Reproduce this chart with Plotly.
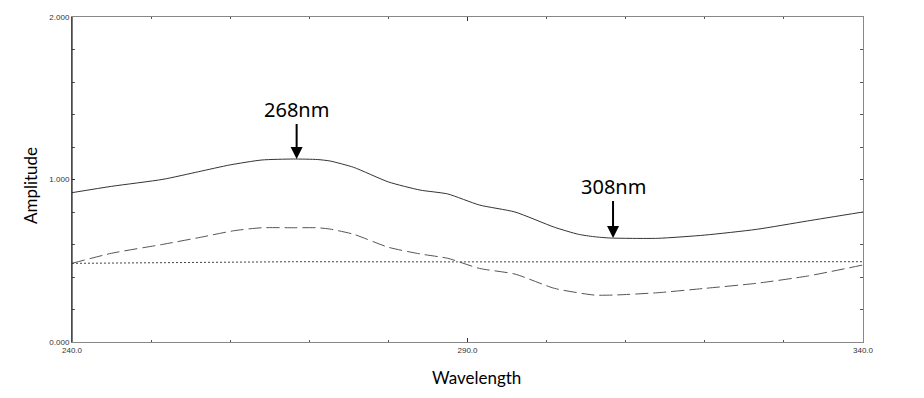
import plotly.graph_objects as go

# Data
wl_solid = [240, 245, 251.5, 256, 260, 264, 268, 271, 272.6, 275.6, 280, 284, 287.5, 291.5, 296, 301, 304, 306, 308, 314, 320, 326.5, 333, 340]
amp_solid = [0.919, 0.958, 1.001, 1.048, 1.090, 1.120, 1.126, 1.123, 1.114, 1.075, 0.985, 0.935, 0.911, 0.843, 0.800, 0.706, 0.663, 0.648, 0.640, 0.638, 0.658, 0.693, 0.745, 0.800]

wl_dash = [240, 245, 251.5, 256, 260.5, 264, 268, 271, 272.6, 275.6, 280, 284, 287.5, 291.5, 296, 301, 306, 308.5, 314, 320, 326.5, 333, 340]
amp_dash = [0.484, 0.546, 0.601, 0.642, 0.685, 0.703, 0.703, 0.703, 0.695, 0.663, 0.583, 0.542, 0.515, 0.453, 0.418, 0.330, 0.289, 0.289, 0.303, 0.330, 0.361, 0.406, 0.474]

wl_dot = [240, 260, 268, 290, 315, 340]
amp_dot = [0.484, 0.490, 0.494, 0.493, 0.494, 0.494]

x_ticks = [240, 290, 340]
x_tick_labels = ["240.0", "290.0", "340.0"]
y_ticks = [0, 1, 2]
y_tick_labels = ["0.000", "1.000", "2.000"]

peaks = [(268.4, 1.126, "268nm", -50), (308.4, 0.640, "308nm", -52)]

fig = go.Figure()
fig.add_trace(go.Scatter(x=wl_dot, y=amp_dot, mode="lines",
                         line=dict(color="#444444", width=1, dash="2px,2px"), hoverinfo="skip"))
fig.add_trace(go.Scatter(x=wl_dash, y=amp_dash, mode="lines",
                         line=dict(color="#555555", width=1, dash="13px,5px", shape="spline", smoothing=0.6), hoverinfo="skip"))
fig.add_trace(go.Scatter(x=wl_solid, y=amp_solid, mode="lines",
                         line=dict(color="#333333", width=1, shape="spline", smoothing=0.6), hoverinfo="skip"))

for x, y, txt, ay in peaks:
    fig.add_annotation(x=x, y=y, text=txt, showarrow=True, ax=0, ay=ay,
                       arrowhead=2, arrowsize=1.2, arrowwidth=2, arrowcolor="black",
                       standoff=0, font=dict(family="Noto Sans", size=20, color="black"))

fig.add_annotation(x=0.511, y=-0.108, xref="paper", yref="paper", text="Wavelength",
                   showarrow=False, yanchor="middle", font=dict(family="Lato", size=17, color="black"))
fig.add_annotation(x=-0.053, y=0.48, xref="paper", yref="paper", text="Amplitude",
                   showarrow=False, textangle=-90, xanchor="center",
                   font=dict(family="Lato", size=17, color="black"))

# left axis line dark
fig.add_shape(type="line", xref="paper", yref="paper", x0=0, x1=0, y0=0, y1=1,
              line=dict(color="#222222", width=1.2))

fig.update_layout(
    width=924, height=398,
    margin=dict(l=72, r=61, t=17, b=56),
    paper_bgcolor="white", plot_bgcolor="white",
    showlegend=False,
    xaxis=dict(range=[240, 340], tickvals=x_ticks, ticktext=x_tick_labels,
               showgrid=False, zeroline=False, showline=True, linecolor="#888888", linewidth=1,
               mirror="ticks", ticks="inside", ticklen=4, tickcolor="#333333",
               minor=dict(dtick=10, ticks="inside", ticklen=2, tickcolor="#555555", showgrid=False),
               tickfont=dict(family="Liberation Sans", size=8, color="#333333")),
    yaxis=dict(range=[0, 2], tickvals=y_ticks, ticktext=y_tick_labels,
               showgrid=False, zeroline=False, showline=True, linecolor="#888888", linewidth=1,
               mirror="ticks", ticks="inside", ticklen=3, tickcolor="#333333",
               minor=dict(dtick=0.2, ticks="inside", ticklen=3, tickcolor="#555555", showgrid=False),
               tickfont=dict(family="Liberation Sans", size=8, color="#333333")),
)

fig.write_html("out.html", config={"displayModeBar": False},
               post_script="document.body.style.margin='0';document.body.style.overflow='hidden';")
